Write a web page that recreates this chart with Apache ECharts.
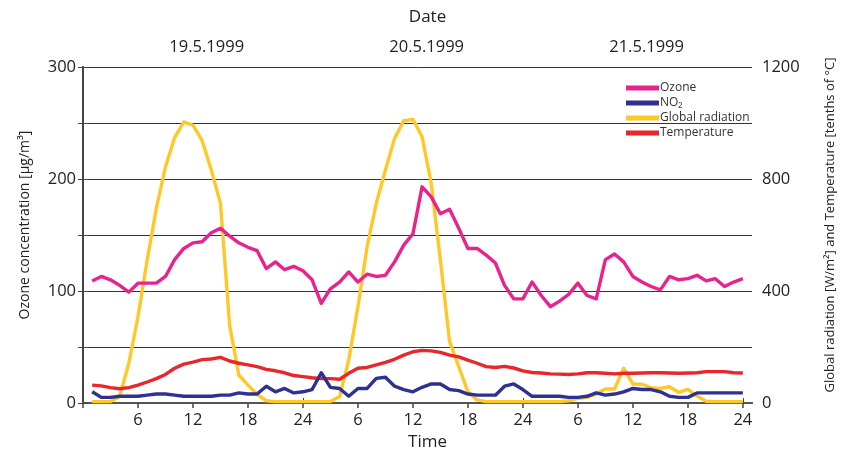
<!DOCTYPE html>
<html>
<head>
<meta charset="utf-8">
<script src="https://cdn.jsdelivr.net/npm/echarts@6/dist/echarts.min.js"></script>
<style>html,body{margin:0;padding:0;background:#fff}#c{width:845px;height:460px}</style>
</head>
<body>
<div id="c"></div>
<script>
// Hours of the 3-day period (hour 1 .. 72)
const hours = [1,2,3,4,5,6,7,8,9,10,11,12,13,14,15,16,17,18,19,20,21,22,23,24,
  25,26,27,28,29,30,31,32,33,34,35,36,37,38,39,40,41,42,43,44,45,46,47,48,
  49,50,51,52,53,54,55,56,57,58,59,60,61,62,63,64,65,66,67,68,69,70,71,72];

// Ozone concentration [µg/m3] (left axis)
const ozone = [109,113,110,105,99,107,107,107,113,128,138,143,144,152,156,149,143,139,136,120,126,119,122,118,
  110,89,102,108,117,108,115,113,114,126,141,151,193,184,169,173,156,138,138,132,125,105,93,93,
  108,96,86,91,97,107,96,93,128,133,126,113,108,104,101,113,110,111,114,109,111,104,108,111];

// NO2 [µg/m3] (left axis)
const no2 = [10,5,5,6,6,6,7,8,8,7,6,6,6,6,7,7,9,8,8,15,10,13,9,10,
  12,27,14,13,6,13,13,22,23,15,12,10,14,17,17,12,11,8,7,7,7,15,17,12,
  6,6,6,6,5,5,6,9,7,8,10,13,12,12,10,6,5,5,9,9,9,9,9,9];

// Global radiation [W/m2] (right axis)
const radiation = [5,5,5,23,142,308,510,695,844,948,1004,992,937,832,713,278,100,64,31,8,5,5,5,5,
  5,5,5,23,154,344,558,713,832,945,1008,1013,951,784,510,219,130,40,11,5,5,5,5,5,
  5,5,5,5,8,17,20,32,50,50,124,68,67,55,52,58,38,49,25,6,5,5,5,5];

// Temperature [tenths of °C] (right axis)
const temperature = [64,61,55,51,55,64,75,87,102,124,139,146,155,157,163,150,142,136,130,120,115,108,98,94,
  90,87,87,85,106,124,127,136,145,156,171,183,188,186,181,171,165,153,142,130,127,131,125,115,
  109,107,104,103,102,104,108,108,106,104,106,106,107,108,108,107,106,107,108,112,112,112,108,107];

// Axis ticks / labels
const hourTicks = [0,6,12,18,24,30,36,42,48,54,60,66,72];
const hourLabels = [6,12,18,24,30,36,42,48,54,60,66,72];
const dayBounds = [0,24,48,72];
const dateLabelPos = [13.5,37.5,61.5];
const dateLabels = ['19.5.1999','20.5.1999','21.5.1999'];
const leftTicks = [0,50,100,150,200,250,300];
const rightTicks = [0,200,400,600,800,1000,1200];

const seriesNames = ['Ozone','NO₂','Global radiation','Temperature'];
const seriesColors = ['#E8238E','#2E3192','#FFC828','#E8262B'];

const FONT = 'Open Sans';
const pair = arr => hours.map((h,i)=>[h,arr[i]]);

const chart = echarts.init(document.getElementById('c'), null, {renderer:'canvas'});
const mkSeries = (i, data, yIdx) => ({
  name: seriesNames[i], type:'line', data: pair(data), xAxisIndex:0, yAxisIndex:yIdx,
  showSymbol:false, symbol:'none', color: seriesColors[i],
  lineStyle:{width:3.4, color: seriesColors[i], join:'round'},
  itemStyle:{color: seriesColors[i]}, animation:false, z: 3
});

chart.setOption({
  animation:false,
  textStyle:{fontFamily:FONT},
  grid:{left:83, right:82, top:67, bottom:57, containLabel:false},
  legend:{
    orient:'vertical', left:621, top:77, itemWidth:33, itemHeight:5, itemGap:3,
    icon:'rect', data: seriesNames,
    textStyle:{fontFamily:FONT, fontSize:12, color:'#333', padding:[0,0,0,-4]}
  },
  xAxis:[{
    type:'value', position:'bottom', min:0, max:73,
    name:'Time', nameLocation:'middle', nameGap:26,
    nameTextStyle:{fontFamily:FONT, fontSize:17, color:'#222', padding:[0,0,0,20]},
    axisLine:{show:true, lineStyle:{color:'#444', width:2}},
    axisTick:{show:true, length:5, customValues: hourTicks, lineStyle:{color:'#444', width:1.5}},
    axisLabel:{customValues: hourLabels, formatter: v => String((v % 24) || 24), margin:9,
      fontFamily:FONT, fontSize:16.5, color:'#222'},
    splitLine:{show:false}
  },{
    type:'value', position:'top', min:0, max:73,
    name:'Date', nameLocation:'middle', nameGap:41,
    nameTextStyle:{fontFamily:FONT, fontSize:17, color:'#222', padding:[0,0,0,20]},
    axisLine:{show:true, lineStyle:{color:'#555', width:2}},
    axisTick:{show:true, inside:false, length:5, customValues: dayBounds, lineStyle:{color:'#444', width:1}},
    axisLabel:{customValues: dateLabelPos, formatter: v => dateLabels[dateLabelPos.indexOf(v)] || '',
      margin:11, fontFamily:FONT, fontSize:16.5, color:'#222'},
    splitLine:{show:false}
  }],
  yAxis:[{
    type:'value', position:'left', min:0, max:300, interval:100,
    name:'Ozone concentration [µg/m³]', nameLocation:'middle', nameGap:51,
    nameTextStyle:{fontFamily:FONT, fontSize:14, color:'#222', padding:[0,0,0,20]},
    axisLine:{show:true, lineStyle:{color:'#444', width:2}},
    axisTick:{show:true, inside:true, length:5, customValues: leftTicks, lineStyle:{color:'#444', width:1}},
    axisLabel:{margin:7, fontFamily:FONT, fontSize:16.5, color:'#222'},
    splitLine:{show:true, lineStyle:{color:'#333', width:1}}
  },{
    type:'value', position:'right', min:0, max:1200, interval:400,
    name:'Global radiation [W/m²] and Temperature [tenths of °C]', nameLocation:'middle', nameGap:72,
    nameTextStyle:{fontFamily:FONT, fontSize:13, color:'#222', padding:[0,0,0,20]},
    axisLine:{show:true, lineStyle:{color:'#444', width:2}},
    axisTick:{show:true, inside:true, length:5, customValues: rightTicks, lineStyle:{color:'#444', width:1}},
    axisLabel:{margin:10, fontFamily:FONT, fontSize:16.5, color:'#222', formatter: v => String(v)},
    splitLine:{show:false}
  }],
  series:[
    mkSeries(2, radiation, 1),
    mkSeries(3, temperature, 1),
    mkSeries(1, no2, 0),
    mkSeries(0, ozone, 0)
  ]
});
</script>
</body>
</html>
